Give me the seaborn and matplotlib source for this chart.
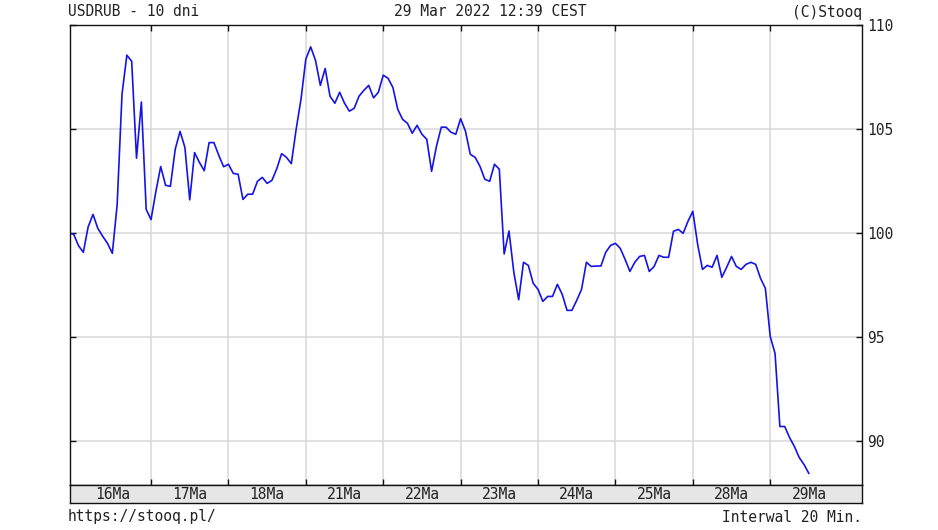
import numpy as np
import seaborn as sns
import matplotlib.pyplot as plt

# USDRUB, 20 min interval (16 samples per day)
d16 = [100.0, 99.95, 99.4, 99.08, 100.3, 100.9, 100.23, 99.85, 99.51, 99.03,
       101.38, 106.67, 108.55, 108.26, 103.6, 106.3, 101.14]
d17 = [100.65, 102.0, 103.2, 102.3, 102.25, 104.03, 104.89, 104.12, 101.6, 103.87,
       103.4, 103.0, 104.35, 104.35, 103.74, 103.19]
d18 = [103.31, 102.87, 102.83, 101.62, 101.87, 101.87, 102.49, 102.68, 102.39, 102.54,
       103.1, 103.82, 103.64, 103.34, 104.99, 106.43]
d21 = [108.36, 108.95, 108.3, 107.1, 107.91, 106.58, 106.24, 106.77, 106.24, 105.86,
       106.0, 106.58, 106.86, 107.1, 106.5, 106.77]
d22 = [107.59, 107.44, 107.0, 105.95, 105.47, 105.28, 104.8, 105.18, 104.75, 104.51,
       102.97, 104.17, 105.09, 105.09, 104.85, 104.75]
d23 = [105.5, 104.9, 103.79, 103.64, 103.21, 102.59, 102.49, 103.31, 103.07, 99.0,
       100.1, 98.12, 96.8, 98.6, 98.45, 97.59]
d24 = [97.3, 96.72, 96.96, 96.96, 97.54, 97.06, 96.29, 96.29, 96.77, 97.3,
       98.6, 98.4, 98.42, 98.42, 99.08, 99.41]
d25 = [99.51, 99.27, 98.74, 98.16, 98.6, 98.88, 98.93, 98.16, 98.4, 98.93,
       98.84, 98.84, 100.09, 100.18, 99.99, 100.57]
d28 = [101.05, 99.46, 98.26, 98.45, 98.36, 98.93, 97.88, 98.36, 98.88, 98.4,
       98.26, 98.5, 98.6, 98.5, 97.83, 97.35]
d29 = [95.04, 94.22, 90.71, 90.71, 90.18, 89.75, 89.22, 88.88, 88.45]

day_labels = ['16Ma', '17Ma', '18Ma', '21Ma', '22Ma', '23Ma', '24Ma', '25Ma', '28Ma', '29Ma']
y_ticks = [90, 95, 100, 105, 110]

price = np.array(d16 + d17 + d18 + d21 + d22 + d23 + d24 + d25 + d28 + d29)
# time in days, 0 = start of 17 Mar
t = (np.arange(len(price)) - len(d16)) / 16

sns.set_style('white')
plt.rcParams['font.family'] = ['DejaVu Sans Mono']
plt.rcParams['font.size'] = 10.5

W, H = 938, 530
fig = plt.figure(figsize=(W / 100, H / 100), dpi=100)
ax = fig.add_axes([70 / W, 45 / H, 792 / W, 460 / H])
band = fig.add_axes([70 / W, 27 / H, 792 / W, 18 / H])

xlim = (-1.047, 9.186)
sns.lineplot(x=t, y=price, ax=ax, color='#1414e6', lw=1.2)
ax.set_xlim(*xlim)
ax.set_ylim(87.9, 110)
ax.set_xticks(range(9))
ax.set_yticks(y_ticks)
ax.set_xticklabels([])
ax.grid(True, color='#d9d9d9', lw=1.1)
ax.set_axisbelow(True)
ax.yaxis.tick_right()
ax.tick_params(axis='y', left=True, right=True, labelleft=False, labelright=True,
               direction='in', length=4, width=1, pad=4, colors='#111111', labelcolor='#222222')
ax.tick_params(axis='x', top=True, bottom=True, direction='in', length=4, width=1,
               colors='#111111')
for s in ax.spines.values():
    s.set_color('#111111')
    s.set_linewidth(1.0)

# date band under the plot
band.set_facecolor('#e6e6e6')
band.set_xlim(*xlim)
band.set_ylim(0, 1)
band.set_xticks([])
band.set_yticks([])
for s in band.spines.values():
    s.set_color('#111111')
    s.set_linewidth(1.0)
for k, lab in enumerate(day_labels):
    band.text(k - 0.5, 0.45, lab, ha='center', va='center', color='#222222')

fig.text(68 / W, 1 - 12 / H, 'USDRUB - 10 dni', ha='left', va='center', color='#222222')
fig.text(490 / W, 1 - 12 / H, '29 Mar 2022 12:39 CEST', ha='center', va='center', color='#222222')
fig.text(862 / W, 1 - 12 / H, '(C)Stooq', ha='right', va='center', color='#222222')
fig.text(68 / W, 1 - 517 / H, 'https://stooq.pl/', ha='left', va='center', color='#222222')
fig.text(862 / W, 1 - 517 / H, 'Interwal 20 Min.', ha='right', va='center', color='#222222')

fig.savefig('out.png', dpi=100)
